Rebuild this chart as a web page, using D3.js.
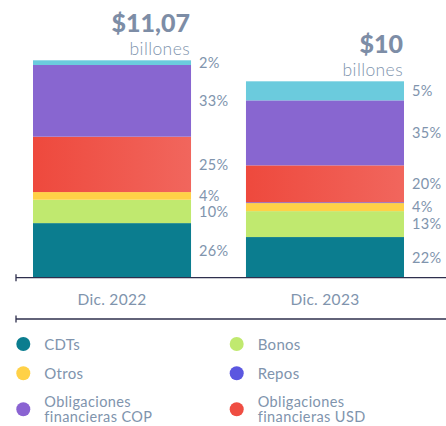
<!DOCTYPE html>
<html lang="es">
<head>
<meta charset="utf-8">
<title>Pasivos</title>
<script src="https://cdn.jsdelivr.net/npm/d3@7"></script>
<style>
  body { margin: 0; background: #fff; }
  text { font-family: Lato, "Open Sans", sans-serif; fill: #8094ad; }
  text.total { font-weight: 900; font-size: 25px; fill: #7d8da6; }
  text.unit { font-weight: 300; font-size: 17.5px; letter-spacing: 0.4px; }
  text.pct { font-weight: 400; font-size: 14.5px; letter-spacing: 0.3px; }
  text.cat { font-weight: 400; font-size: 15.5px; letter-spacing: 0.3px; }
  text.leg { font-weight: 400; font-size: 15px; letter-spacing: 0.3px; }
  text.leg2 { font-weight: 400; font-size: 14.5px; letter-spacing: 0.4px; }
</style>
</head>
<body>
<script>
// data
var categories = ["Dic. 2022", "Dic. 2023"];
var totals = [11.07, 10];
var totalLabels = ["$11,07", "$10"];
var unitLabel = "billones";

// stack order, bottom to top
var keys = ["CDTs", "Bonos", "Otros", "Repos", "USD", "COP", "Resto"];
var colors = ["#0b7d8f", "#c0e96f", "#ffd147", "#5b57e0", "url(#redGrad)", "#8866d0", "#6bcbdd"];

// segment values in billones
var vals2022 = [2.78, 1.19, 0.39, 0.00, 2.82, 3.65, 0.24];
var vals2023 = [2.07, 1.32, 0.41, 0.04, 1.88, 3.31, 0.97];
var pct2022 = ["26%", "10%", "4%", "", "25%", "33%", "2%"];
var pct2023 = ["22%", "13%", "4%", "", "20%", "35%", "5%"];

var legendNames = ["CDTs", "Bonos", "Otros", "Repos", "Obligaciones\nfinancieras COP", "Obligaciones\nfinancieras USD"];
var legendColors = ["#0b7d8f", "#c0e96f", "#ffd147", "#5b57e0", "#8a63d2", "#ef4d42"];

var w = 446, h = 426;
var base = 277.7;

var svg = d3.select("body").append("svg")
    .attr("width", w)
    .attr("height", h);

var grad = svg.append("defs").append("linearGradient")
    .attr("id", "redGrad")
    .attr("x1", "0%").attr("x2", "100%")
    .attr("y1", "0%").attr("y2", "0%");
grad.append("stop").attr("offset", "0%").attr("stop-color", "#ee493d");
grad.append("stop").attr("offset", "100%").attr("stop-color", "#f1665d");

var xScale = d3.scaleBand()
    .domain(categories)
    .range([33, 404])
    .paddingInner(0.258)
    .paddingOuter(0);

var yScale = d3.scaleLinear()
    .domain([0, 11.07])
    .range([base, 60.3]);

var rows = categories.map(function (c, i) {
    var vals = i === 0 ? vals2022 : vals2023;
    var r = { cat: c };
    keys.forEach(function (k, j) { r[k] = vals[j]; });
    return r;
});

var series = d3.stack().keys(keys)(rows);

//Bars
svg.append("g").selectAll("g")
    .data(series)
    .enter()
    .append("g")
    .attr("fill", function (d, i) { return colors[i]; })
    .selectAll("rect")
    .data(function (d) { return d; })
    .enter()
    .append("rect")
    .attr("x", function (d) { return xScale(d.data.cat); })
    .attr("width", xScale.bandwidth())
    .attr("y", function (d) { return yScale(d[1]); })
    .attr("height", function (d) { return Math.max(0, yScale(d[0]) - yScale(d[1])); });

//Percent labels
series.forEach(function (s, j) {
    s.forEach(function (d, i) {
        var lab = (i === 0 ? pct2022 : pct2023)[j];
        if (!lab) return;
        svg.append("text")
            .attr("class", "pct")
            .attr("x", xScale(d.data.cat) + xScale.bandwidth() + 8)
            .attr("y", (yScale(d[0]) + yScale(d[1])) / 2)
            .attr("dy", "0.36em")
            .text(lab);
    });
});

//Totals
categories.forEach(function (c, i) {
    var right = xScale(c) + xScale.bandwidth() - 1;
    var top = yScale(totals[i]);
    svg.append("text")
        .attr("class", "total")
        .attr("x", right)
        .attr("y", top - 28)
        .attr("text-anchor", "end")
        .text(totalLabels[i]);
    svg.append("text")
        .attr("class", "unit")
        .attr("x", right)
        .attr("y", top - 5.5)
        .attr("text-anchor", "end")
        .text(unitLabel);
});

//Axis and separator
[base, 319].forEach(function (y) {
    svg.append("line")
        .attr("x1", 16).attr("x2", w)
        .attr("y1", y).attr("y2", y)
        .attr("stroke", "#2e2f4d").attr("stroke-width", 1.3);
    svg.append("line")
        .attr("x1", 16).attr("x2", 16)
        .attr("y1", y - 3.5).attr("y2", y + 3.5)
        .attr("stroke", "#2e2f4d").attr("stroke-width", 1.3);
});

svg.selectAll("text.cat")
    .data(categories)
    .enter()
    .append("text")
    .attr("class", "cat")
    .attr("x", function (d) { return xScale(d) + xScale.bandwidth() / 2; })
    .attr("y", 304.5)
    .attr("text-anchor", "middle")
    .text(function (d) { return d; });

//Legend
var legRows = [344, 373.3, 409.3];
var legCols = [23.3, 236.7];
legendNames.forEach(function (name, i) {
    var cx = legCols[i % 2], cy = legRows[Math.floor(i / 2)];
    svg.append("circle")
        .attr("cx", cx).attr("cy", cy).attr("r", 7)
        .attr("fill", legendColors[i]);
    var lines = name.split("\n");
    lines.forEach(function (l, k) {
        svg.append("text")
            .attr("class", lines.length > 1 ? "leg2" : "leg")
            .attr("x", cx + 21)
            .attr("y", lines.length > 1 ? cy - 2 + k * 15 : cy + 5.5)
            .text(l);
    });
});
</script>
</body>
</html>
